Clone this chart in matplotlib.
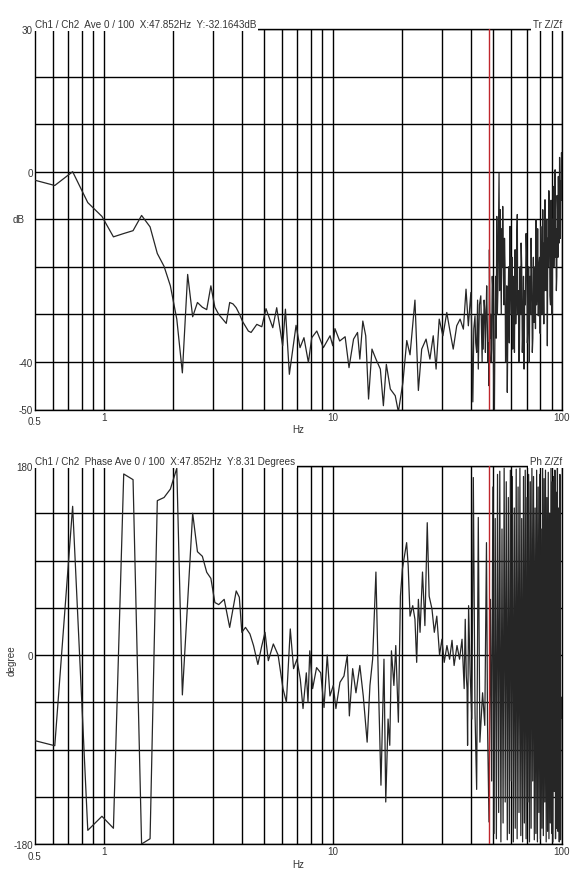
import matplotlib
matplotlib.use("Agg")
import matplotlib.pyplot as plt
from matplotlib.ticker import NullFormatter

plt.rcParams['font.family'] = ['Liberation Sans', 'DejaVu Sans']

# transfer function magnitude (dB)
top_freq = [0.5, 0.61, 0.73, 0.85, 0.98, 1.10, 1.22, 1.34, 1.46, 1.59, 1.71, 1.83, 1.95, 2.08, 2.20,
            2.32, 2.44, 2.56, 2.69, 2.81, 2.93, 3.05, 3.17, 3.30, 3.42, 3.54, 3.66, 3.78, 3.91, 4.03,
            4.15, 4.27, 4.39, 4.65, 4.89, 5.10, 5.46, 5.68, 6.03, 6.20, 6.45, 6.90, 7.18, 7.47, 7.81,
            8.08, 8.50, 9.08, 9.71, 9.98, 10.2, 10.7, 11.3, 11.75, 12.3, 12.8, 13.1, 13.5, 13.9, 14.3,
            14.8, 15.4, 16.1, 16.6, 17.1, 17.8, 18.7, 19.3, 20.2, 21.0, 21.7, 22.8, 23.6, 24.4, 25.5,
            26.5, 27.4, 28.2, 29.1, 30.2, 31.4, 32.5, 33.5, 34.7, 35.9, 37.1, 38.1, 39.0,
            40.0, 40.4, 40.8, 41.2, 41.7, 42.0, 42.4, 42.8, 43.1, 43.6, 44.2, 44.5, 44.8, 45.0, 45.3,
            45.7, 46.0, 46.3, 46.6, 46.9, 47.2, 47.5, 47.7, 48.0,
            48.2, 48.5, 48.8, 49.0, 49.3, 49.6, 50.0, 50.3, 50.7, 51.0, 51.3, 51.6, 51.9, 52.2, 52.5,
            52.8, 53.1, 53.4, 53.6, 53.8, 54.0, 54.3, 54.6, 54.9, 55.1, 55.5, 55.8, 56.1, 56.4, 56.7,
            57.0, 57.4, 57.7, 58.1, 58.5, 58.9, 59.3, 59.7, 60.1, 60.5, 60.9, 61.2, 61.6, 62.0, 62.4,
            62.8, 63.1, 63.4, 63.8, 64.1, 64.5, 64.8, 65.2, 65.6, 66.0, 66.3, 66.7, 67.1, 67.5, 67.9,
            68.3, 68.7, 69.2, 69.7, 70.2, 70.6, 71.1, 71.5, 72.0, 72.4, 72.9, 73.3, 73.8, 74.2, 74.6,
            75.0, 75.5, 75.8, 76.2, 76.6, 77.0, 77.4, 77.9, 78.3, 78.8, 79.3, 79.8, 80.3, 80.8, 81.3,
            81.9, 82.4, 82.9, 83.3, 83.6, 84.0, 84.3, 84.8, 85.3, 85.8, 86.3, 86.7, 87.2, 87.6, 88.1,
            88.6, 89.1, 89.6, 90.2, 90.5, 90.9, 91.3, 91.7, 92.1, 92.5, 92.9, 93.3, 93.7, 94.1, 94.5,
            94.9, 95.2, 95.6, 96.0, 96.4, 96.8, 97.2, 97.6, 98.1, 98.4, 98.8, 99.2, 99.5, 99.8]
top_db = [-1.8, -2.9, 0.0, -6.5, -9.4, -13.7, -13.0, -12.4, -9.2, -11.6, -17.2, -19.9, -24.0, -31.0, -42.3,
          -21.6, -30.5, -27.5, -28.5, -29.0, -24.0, -28.5, -30.0, -31.0, -31.9, -27.5, -27.8, -28.6, -30.0, -31.5,
          -32.5, -33.5, -33.8, -32.1, -32.6, -28.8, -32.8, -28.6, -36.6, -28.9, -42.6, -32.3, -37.0, -34.9, -40.1,
          -34.9, -33.5, -37.0, -34.5, -36.6, -33.0, -35.6, -34.7, -41.2, -35.2, -33.8, -39.4, -31.4, -34.5, -47.8,
          -37.3, -39.4, -41.5, -49.2, -40.5, -45.7, -47.1, -50.5, -44.3, -35.5, -38.5, -27.0, -46.0, -37.3, -35.2,
          -39.4, -34.5, -41.5, -31.0, -34.5, -29.6, -33.8, -37.3, -32.4, -31.0, -33.1, -24.7, -32.4,
          -25.4, -35.0, -48.4, -33.0, -30.3, -36.0, -38.0, -27.0, -41.5, -28.0, -26.1, -33.0, -40.0, -30.0, -37.3,
          -27.0, -29.0, -38.0, -30.3, -24.0, -31.7, -40.0, -36.0, -45.0,
          -16.4, -35.0, -30.0, -40.0, -37.3, -22.0, -26.0, -44.0, -50.0, -30.0, -22.0, -35.0, -9.4, -30.0, -25.0,
          -12.0, -0.3, -25.0, -20.0, -8.0, -16.4, -30.0, -12.0, -20.0, -7.3, -22.0, -28.0, -14.0, -19.9, -40.0,
          -35.0, -24.0, -46.4, -30.0, -20.0, -36.0, -11.5, -25.0, -30.0, -18.0, -37.3, -26.0, -22.0, -38.0, -16.4,
          -32.0, -28.0, -14.0, -9.0, -30.0, -25.0, -40.0, -37.3, -20.0, -30.0, -15.0, -19.9, -38.0, -33.0, -22.0,
          -41.5, -25.0, -28.0, -13.0, -18.4, -36.0, -32.0, -20.0, -40.1, -22.0, -30.0, -14.0, -23.3, -38.0, -35.0,
          -18.0, -31.7, -24.0, -20.0, -33.0, -10.1, -28.0, -25.0, -12.0, -30.3, -20.0, -18.0, -34.0, -11.5, -22.0,
          -30.0, -8.0, -23.3, -32.0, -15.0, -25.0, -5.9, -20.0, -25.0, -10.0, -36.6, -14.0, -20.0, -4.0, -8.7,
          -26.0, -28.0, -6.0, -19.9, -30.0, -10.0, -18.0, -3.1, -20.0, -15.0, -2.0, 0.4, -18.0, -12.0, -25.0,
          -22.0, -5.0, -8.0, -18.0, -1.0, -10.0, -15.0, 3.0, -9.4, -14.0, -2.0, -6.0, 4.0, 1.8]

# phase (degrees)
bot_freq = [0.5, 0.61, 0.73, 0.85, 0.98, 1.10, 1.22, 1.34, 1.46, 1.59, 1.71, 1.83, 1.95, 2.08, 2.20,
            2.44, 2.56, 2.69, 2.81, 2.93, 3.05, 3.17, 3.35, 3.54, 3.78, 3.90, 4.00, 4.15, 4.34, 4.50,
            4.70, 4.88, 5.05, 5.22, 5.49, 5.76, 6.05, 6.26, 6.51, 6.73, 6.96, 7.20, 7.40, 7.65, 7.78,
            7.92, 8.15, 8.48, 8.84, 9.14, 9.44, 9.70, 10.03, 10.3, 10.73, 11.17, 11.55, 11.79, 12.19, 12.6,
            13.1, 13.56, 14.1, 14.5, 14.9, 15.4, 15.8, 16.2, 16.7, 17.0, 17.4, 17.7, 18.0, 18.45, 18.8,
            19.3, 19.7, 20.1, 20.4, 20.97, 21.3, 21.7, 22.3, 22.8, 23.2, 23.6, 24.0, 24.6, 25.2, 25.8,
            26.3, 27.05, 27.7, 28.4, 29.2, 29.9, 30.6, 31.45, 32.3, 33.1, 33.8, 34.8, 35.7, 36.6, 37.4,
            37.8, 38.2, 38.5, 38.7, 39.1, 39.7, 40.4, 41.0, 41.7, 42.4, 43.1, 43.8, 45.0, 46.0, 46.8,
            47.3, 48.0, 48.7,
            49.3, 49.9, 50.5, 51.1, 51.7, 52.3, 52.9, 53.5, 54.1, 54.7, 55.3, 55.9, 56.5, 57.1, 57.7,
            58.3, 58.9, 59.5, 60.1, 60.7, 61.3, 61.9, 62.5, 63.1, 63.7, 64.3, 64.9, 65.5, 66.1, 66.7,
            67.3, 67.9, 68.5, 69.1, 69.7, 70.3, 70.9, 71.5, 72.1, 72.7, 73.3, 73.9, 74.5, 75.1, 75.7,
            76.3, 76.9, 77.5, 78.1, 78.7, 79.3, 79.9, 80.5, 81.1, 81.7, 82.3, 82.9, 83.5, 84.1, 84.7,
            85.3, 85.9, 86.5, 87.1, 87.7, 88.3, 88.9, 89.5, 90.1, 90.7, 91.3, 91.9, 92.5, 93.1, 93.7,
            94.3, 94.9, 95.5, 96.1, 96.7, 97.3, 97.9, 98.5, 99.1, 99.7]
bot_deg = [-81.6, -86.4, 141.6, -167, -153.6, -165, 172.4, 167, -180, -175, 147, 150, 158, 177.8, -38,
           135, 98.4, 94, 78.8, 73, 50, 48, 53, 26.3, 61, 55, 21.6, 26.3, 20, 8.9,
           -9, 8, 21.6, -5.4, 10.5, 0, -32, -45, 24.8, -13, -4, -23, -51, -17, -45,
           4, -32, -12, -17, -50, 0, -39, -29, -51, -26, -20, 0, -58, -13, -36,
           -10, -39, -83, -29, -4, 79, -29, -124, -4, -140, -61, -86, 4, -29, 9,
           -64, 56, 82, 91, 107, 85, 37, 47, 34, -7, 53, 21.6, 79, 28, 126,
           56, 44, 21.6, 37, 0, 15, -7, 9, -4, 14, -10, 9, -4, 15, -32,
           34, -20, -32, -86, 47, -17, -61, 169, -55, -128, 131, -83, -36, -67, 107,
           -67, -159, 53,
           -120, 160, -170, 130, -175, 172, -150, 175, -178, 120, -160, 178, -140, 165, -176,
           150, -170, 176, -120, 170, -178, 140, -165, 177, -175, 160, -150, 178, -172, 130,
           -178, 170, -160, 176, -175, 150, -140, 172, -178, 165, -165, 178, -120, 170, -176,
           140, -170, 176, -178, 160, -150, 172, -175, 120, -165, 178, -172, 168, -140, 176,
           -178, 150, -168, 174, -175, 135, -160, 178, -170, 165, -178, 170, -130, 176, -175,
           155, -165, 178, -168, 140, -178, 172, -176, -40, -60]

minor_hz = [0.6, 0.7, 0.8, 0.9, 2, 3, 4, 5, 6, 7, 8, 9, 20, 30, 40, 50, 60, 70, 80, 90]
cursor_hz = 47.852

db_ticks = [-50, -40, -30, -20, -10, 0, 10, 20, 30]
db_labels = ['-50', '-40', '', '', '', '0', '', '', '30']
deg_ticks = [-180, -135, -90, -45, 0, 45, 90, 135, 180]
deg_labels = ['-180', '', '', '', '0', '', '', '', '180']

FS = 7.1
TXT = '#333333'
LINE = '#262626'
PX = 0.72  # points per pixel at 100 dpi

fig = plt.figure(figsize=(5.85, 8.79), dpi=100)
ax1 = fig.add_axes([35 / 585, 1 - 410.5 / 879, 527 / 585, 380.5 / 879])
ax2 = fig.add_axes([35 / 585, 1 - 845 / 879, 527 / 585, 378 / 879])


def setup(ax, yticks, ylabels, ylim, left_title, right_title):
    ax.set_xscale('log')
    ax.set_xlim(0.5, 100)
    ax.set_ylim(*ylim)
    ax.set_xticks([1, 10, 100], ['1', '10', '100'])
    ax.set_xticks(minor_hz, minor=True)
    ax.xaxis.set_minor_formatter(NullFormatter())
    ax.set_yticks(yticks, ylabels)
    ax.grid(which='both', color='black', lw=1.0)
    ax.set_axisbelow(True)
    ax.tick_params(which='both', length=0, labelsize=FS, pad=1.5, colors=TXT)
    for s in ax.spines.values():
        s.set_color('black')
        s.set_linewidth(1.0)
    ax.set_xlabel('Hz', fontsize=FS, color=TXT, labelpad=2)
    ax.annotate('0.5', xy=(0.5, 0), xycoords=ax.get_xaxis_transform(),
                xytext=(0, -12 * PX), textcoords='offset points',
                ha='center', va='center', fontsize=FS, color=TXT)
    box = dict(facecolor='white', edgecolor='none', pad=1.5)
    ax.annotate(left_title, xy=(0, 1), xycoords='axes fraction',
                xytext=(0, 2 * PX), textcoords='offset points',
                ha='left', va='baseline', fontsize=FS, color=TXT, bbox=box, zorder=5)
    ax.annotate(right_title, xy=(1, 1), xycoords='axes fraction',
                xytext=(0, 2 * PX), textcoords='offset points',
                ha='right', va='baseline', fontsize=FS, color=TXT, bbox=box, zorder=5)
    ax.axvline(cursor_hz, color='#c0272d', lw=1.0, zorder=4)


setup(ax1, db_ticks, db_labels, (-50, 30),
      'Ch1 / Ch2  Ave 0 / 100  X:47.852Hz  Y:-32.1643dB', 'Tr Z/Zf')
ax1.plot(top_freq, top_db, color=LINE, lw=0.9, zorder=3)
ax1.annotate('dB', xy=(0, -10), xycoords=ax1.get_yaxis_transform(),
             xytext=(-16 * PX, 0), textcoords='offset points',
             ha='center', va='center', fontsize=FS, color=TXT)

setup(ax2, deg_ticks, deg_labels, (-180, 180),
      'Ch1 / Ch2  Phase Ave 0 / 100  X:47.852Hz  Y:8.31 Degrees', 'Ph Z/Zf')
ax2.plot(bot_freq, bot_deg, color=LINE, lw=0.9, zorder=3)
ax2.annotate('degree', xy=(0, -4), xycoords=ax2.get_yaxis_transform(),
             xytext=(-23 * PX, 0), textcoords='offset points', rotation=90,
             ha='center', va='center', fontsize=FS, color=TXT)

fig.savefig('out.png', dpi=100)
